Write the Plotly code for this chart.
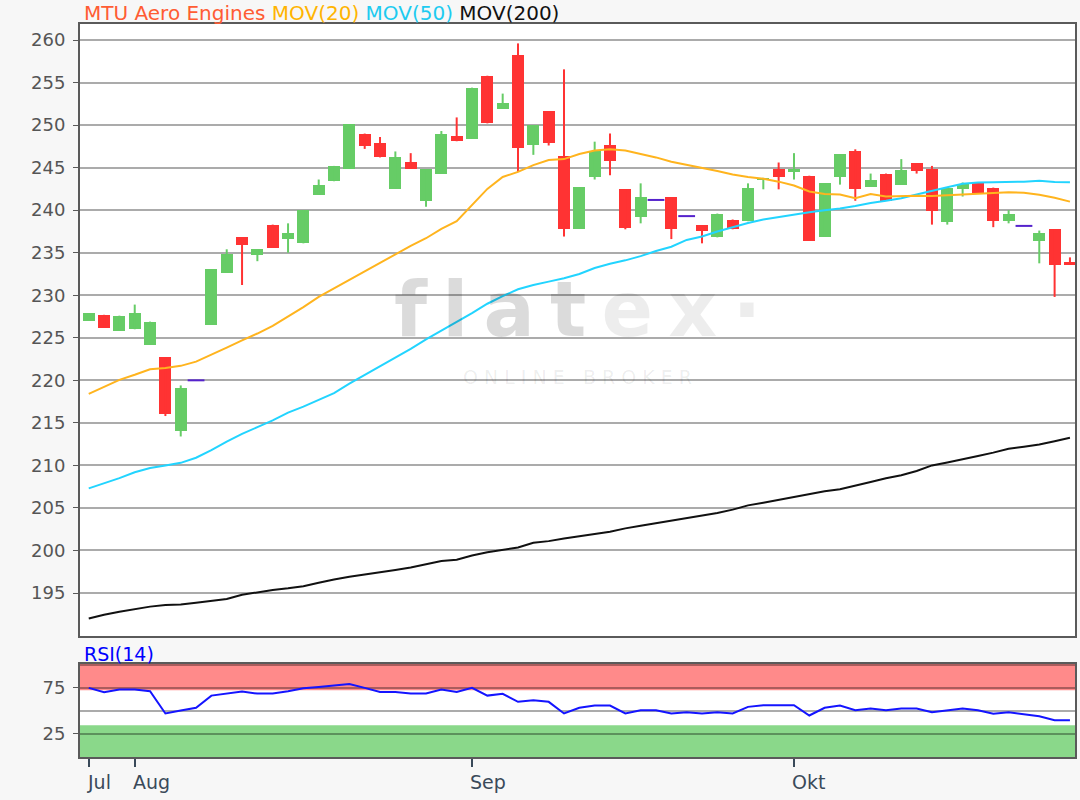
import plotly.graph_objects as go

# ---------------- data ----------------
tick_idx = [0, 3, 25, 46]
tick_labels = ["Jul", "Aug", "Sep", "Okt"]

price_ticks = [195, 200, 205, 210, 215, 220, 225, 230, 235, 240, 245, 250, 255, 260]

open_ = [227.0, 227.7, 225.8, 226.0, 224.15, 222.7, 214.0, 220.0, 226.5, 232.65,
         236.8, 234.7, 238.3, 236.6, 236.1, 241.8, 243.4, 244.85, 249.0, 247.9,
         242.5, 245.7, 241.1, 244.3, 248.75, 248.4, 255.8, 251.9, 258.2, 247.7,
         251.6, 246.4, 237.8, 243.9, 247.6, 242.45, 239.2, 241.2, 241.5, 239.3,
         238.2, 236.8, 238.9, 238.7, 243.55, 244.8, 244.6, 244.05, 236.9, 243.9,
         246.9, 242.75, 244.3, 243.0, 245.5, 244.8, 238.55, 242.5, 243.25, 242.65,
         238.75, 238.15, 236.4, 237.75, 233.95]

high = [227.9, 227.7, 227.6, 228.9, 226.9, 222.7, 219.4, 220.0, 233.05, 235.4,
        236.8, 235.4, 238.3, 238.45, 240.0, 243.6, 245.2, 250.1, 249.0, 248.6,
        246.9, 246.7, 244.8, 249.3, 250.9, 254.4, 255.8, 253.7, 259.6, 250.0,
        251.6, 256.55, 242.7, 248.05, 249.0, 242.45, 243.15, 241.2, 241.5, 239.3,
        238.2, 239.6, 238.9, 243.15, 243.8, 245.6, 246.7, 244.05, 243.15, 246.6,
        247.15, 244.3, 244.3, 246.0, 245.5, 245.2, 242.6, 243.25, 243.25, 242.65,
        240.0, 238.15, 237.6, 237.75, 234.45]

low = [227.0, 226.2, 225.8, 226.0, 224.15, 215.8, 213.4, 220.0, 226.5, 232.65,
       231.2, 234.0, 235.6, 235.0, 236.1, 241.8, 243.4, 244.85, 247.2, 246.2,
       242.5, 244.85, 240.4, 244.3, 248.1, 248.4, 250.2, 251.9, 244.5, 246.5,
       247.6, 236.9, 237.8, 243.6, 244.1, 237.75, 238.45, 241.2, 236.6, 239.3,
       236.1, 236.8, 237.75, 238.7, 242.45, 242.45, 243.6, 236.4, 236.9, 243.0,
       241.1, 242.75, 241.1, 243.0, 244.3, 238.3, 238.3, 241.6, 242.05, 238.0,
       238.45, 238.15, 233.75, 229.8, 233.55]

close = [227.9, 226.2, 227.6, 227.9, 226.9, 216.1, 219.1, 220.0, 233.05, 234.9,
         235.9, 235.4, 235.6, 237.3, 240.0, 243.0, 245.2, 250.1, 247.5, 246.2,
         246.2, 244.85, 244.8, 249.0, 248.1, 254.4, 250.2, 252.6, 247.3, 250.0,
         247.9, 237.8, 242.7, 246.9, 245.8, 237.95, 241.5, 241.2, 237.8, 239.3,
         237.55, 239.6, 237.75, 242.65, 243.8, 243.85, 244.8, 236.4, 243.15, 246.6,
         242.5, 243.55, 241.1, 244.7, 244.65, 239.95, 242.6, 243.05, 242.05, 238.75,
         239.6, 238.15, 237.3, 233.55, 233.55]

mov20 = [218.4, 219.25, 220.05, 220.65, 221.3, 221.45, 221.7, 222.2, 223.0, 223.85,
         224.7, 225.5, 226.4, 227.5, 228.6, 229.8, 230.8, 231.9, 232.8, 233.8,
         234.85, 235.8, 236.7, 237.8, 238.7, 240.6, 242.5, 243.9, 244.5, 245.3,
         245.9, 246.0, 246.6, 247.0, 247.15, 247.0, 246.6, 246.2, 245.7, 245.35,
         245.0, 244.6, 244.2, 243.9, 243.7, 243.35, 242.9, 242.2, 241.9, 241.85,
         241.4, 241.9, 241.6, 241.66, 241.7, 241.66, 241.75, 241.9, 241.95, 242.0,
         242.1, 242.05, 241.8, 241.45, 241.0]

mov50 = [207.3, 207.9, 208.5, 209.2, 209.7, 210.0, 210.3, 210.9, 211.8, 212.8,
         213.7, 214.5, 215.3, 216.2, 216.9, 217.7, 218.5, 219.6, 220.6, 221.6,
         222.7, 223.7, 224.8, 225.8, 226.9, 227.9, 229.0, 229.9, 230.7, 231.2,
         231.6, 232.0, 232.5, 233.2, 233.7, 234.1, 234.6, 235.2, 235.7, 236.5,
         236.9, 237.5, 238.0, 238.5, 238.9, 239.2, 239.5, 239.75, 240.0, 240.2,
         240.5, 240.85, 241.1, 241.4, 241.85, 242.3, 242.7, 243.1, 243.25, 243.27,
         243.27, 243.35, 243.45, 243.3, 243.27]

mov200 = [192.0, 192.45, 192.8, 193.1, 193.4, 193.6, 193.65, 193.85, 194.05, 194.3,
          194.8, 195.1, 195.35, 195.55, 195.8, 196.2, 196.6, 196.9, 197.15, 197.4,
          197.7, 198.0, 198.35, 198.75, 198.9, 199.4, 199.8, 200.1, 200.35, 200.9,
          201.1, 201.4, 201.7, 201.95, 202.2, 202.6, 202.9, 203.2, 203.5, 203.8,
          204.1, 204.4, 204.8, 205.3, 205.6, 205.95, 206.3, 206.6, 206.95, 207.2,
          207.6, 208.05, 208.5, 208.85, 209.35, 210.0, 210.35, 210.7, 211.1, 211.5,
          211.95, 212.2, 212.45, 212.85, 213.25]

rsi14 = [75.0, 70.2, 73.2, 73.2, 71.3, 47.1, 50.3, 53.3, 66.6, 68.8,
         71.0, 68.8, 68.8, 71.3, 74.6, 76.1, 77.9, 79.3, 75.0, 70.6,
         70.4, 68.8, 68.8, 73.2, 70.6, 75.0, 66.6, 68.5, 59.8, 61.5,
         59.8, 47.1, 53.3, 55.8, 55.8, 47.1, 50.7, 50.7, 47.1, 48.5,
         47.1, 48.5, 47.1, 54.3, 56.1, 56.1, 56.1, 44.9, 53.3, 55.8,
         50.7, 52.5, 50.7, 52.5, 52.5, 48.5, 50.7, 52.5, 50.7, 46.7,
         48.5, 46.7, 44.1, 39.8, 39.8]

rsi_upper_band = 72.4
rsi_lower_band = 34.3

# ---------------- styles ----------------
GREEN = "#66cc66"
RED = "#ff3333"
DOJI = "#5522cc"
FONT = "DejaVu Sans"

idx = list(range(len(close)))

fig = go.Figure()

# wicks
for col, cond in ((GREEN, lambda o, c: c > o), (RED, lambda o, c: c < o)):
    wx, wy = [], []
    for i in idx:
        if cond(open_[i], close[i]):
            wx += [i, i, None]
            wy += [low[i], high[i], None]
    fig.add_trace(go.Scatter(x=wx, y=wy, mode="lines", line=dict(color=col, width=2),
                             hoverinfo="skip", showlegend=False, xaxis="x", yaxis="y"))

# bodies
body_x = [i for i in idx if close[i] != open_[i]]
fig.add_trace(go.Bar(
    x=body_x,
    y=[abs(close[i] - open_[i]) for i in body_x],
    base=[min(open_[i], close[i]) for i in body_x],
    width=0.78,
    marker=dict(color=[GREEN if close[i] > open_[i] else RED for i in body_x], line=dict(width=0)),
    showlegend=False, xaxis="x", yaxis="y",
))

# doji
doji_x = [i for i in idx if close[i] == open_[i]]
fig.add_trace(go.Scatter(
    x=doji_x, y=[close[i] for i in doji_x], mode="markers",
    marker=dict(symbol="line-ew", size=12, line=dict(color=DOJI, width=2)),
    showlegend=False, xaxis="x", yaxis="y",
))

# moving averages
fig.add_trace(go.Scatter(x=idx, y=mov200, mode="lines", line=dict(color="#111111", width=2),
                         showlegend=False, xaxis="x", yaxis="y"))
fig.add_trace(go.Scatter(x=idx, y=mov50, mode="lines", line=dict(color="#22d4ff", width=2),
                         showlegend=False, xaxis="x", yaxis="y"))
fig.add_trace(go.Scatter(x=idx, y=mov20, mode="lines", line=dict(color="#ffb41e", width=2),
                         showlegend=False, xaxis="x", yaxis="y"))

# RSI
fig.add_trace(go.Scatter(x=idx, y=rsi14, mode="lines", line=dict(color="#1414ff", width=2),
                         showlegend=False, xaxis="x2", yaxis="y2"))

# RSI bands
fig.add_shape(type="rect", xref="x2 domain", yref="y2", x0=0, x1=1, y0=rsi_upper_band, y1=101.1,
              fillcolor="#ff8a8a", line=dict(width=0), layer="below")
fig.add_shape(type="rect", xref="x2 domain", yref="y2", x0=0, x1=1, y0=-0.4, y1=rsi_lower_band,
              fillcolor="#8ad88a", line=dict(width=0), layer="below")

GRID = "rgba(0,0,0,0.33)"
BORDER = "#5a5a5a"
xr = [-0.57, 64.33]

fig.update_layout(
    width=1080, height=800,
    paper_bgcolor="#f7f7f7", plot_bgcolor="#ffffff",
    margin=dict(l=80, r=3, t=24, b=43),
    showlegend=False,
    bargap=0,
    font=dict(family=FONT, size=18, color="#555555"),
    xaxis=dict(domain=[0, 1], range=xr, showticklabels=False, showgrid=False, zeroline=False,
               showline=True, mirror=True, linecolor=BORDER, linewidth=2, ticks="", anchor="y"),
    yaxis=dict(domain=[0.1651, 1.0], range=[189.95, 261.88], tickvals=price_ticks,
               showgrid=True, gridcolor=GRID, gridwidth=2, zeroline=False,
               showline=True, mirror=True, linecolor=BORDER, linewidth=2,
               ticks="outside", ticklen=5, tickwidth=1, tickcolor=BORDER,
               tickfont=dict(family=FONT, size=18, color="#555555"), ticklabelstandoff=4),
    xaxis2=dict(domain=[0, 1], range=xr, matches="x", anchor="y2",
                tickvals=tick_idx, ticktext=[""] * len(tick_idx),
                ticks="outside", ticklen=8, tickwidth=2, tickcolor="#3a4a5a",
                showgrid=False, zeroline=False,
                showline=True, mirror=True, linecolor=BORDER, linewidth=2),
    yaxis2=dict(domain=[0, 0.1269], range=[-0.4, 101.1], tickvals=[25, 75],
                showgrid=True, gridcolor=GRID, gridwidth=2, zeroline=False,
                minor=dict(tickvals=[0, 50, 100], showgrid=True, gridcolor=GRID, gridwidth=2, ticks=""),
                showline=True, mirror=True, linecolor=BORDER, linewidth=2,
                ticks="outside", ticklen=5, tickcolor=BORDER,
                tickfont=dict(family=FONT, size=18, color="#555555"), ticklabelstandoff=4),
)

# title
title = ("<span style='color:#ff5c33'>MTU Aero Engines</span> "
         "<span style='color:#ffb400'>MOV(20)</span> "
         "<span style='color:#1ecbf0'>MOV(50)</span> "
         "<span style='color:#111111'>MOV(200)</span>")
fig.add_annotation(text=title, xref="paper", yref="paper", x=0.002, y=1.0,
                   xanchor="left", yanchor="bottom", showarrow=False, yshift=-3,
                   font=dict(family=FONT, size=20))
fig.add_annotation(text="RSI(14)", xref="paper", yref="paper", x=0.002, y=0.1269,
                   xanchor="left", yanchor="bottom", showarrow=False, yshift=-3,
                   font=dict(family=FONT, size=19, color="#0000ff"))

# month labels (left aligned at their ticks)
for t, lab in zip(tick_idx, tick_labels):
    fig.add_annotation(text=lab, xref="x2", yref="paper", x=t, y=0, xanchor="left",
                       yanchor="top", showarrow=False, xshift=-4, yshift=-12,
                       font=dict(family=FONT, size=19, color="#3a4a5a"))

# watermark
fig.add_annotation(text="<span style='color:rgba(0,0,0,0.14)'>f\u2009l\u2009a\u2009t\u2009</span>"
                        "<span style='color:rgba(0,0,0,0.07)'>e\u2009x\u2009·</span>",
                   xref="paper", yref="paper", x=0.5, y=0.61, showarrow=False,
                   font=dict(family=FONT, size=76, weight=700))
fig.add_annotation(text="O N L I N E   B R O K E R", xref="paper", yref="paper",
                   x=0.5, y=0.518, showarrow=False,
                   font=dict(family=FONT, size=19, color="rgba(0,0,0,0.08)"))

fig.write_html("out.html", config={"displayModeBar": False},
               post_script="document.body.style.margin='0px';document.body.style.overflow='hidden';")
